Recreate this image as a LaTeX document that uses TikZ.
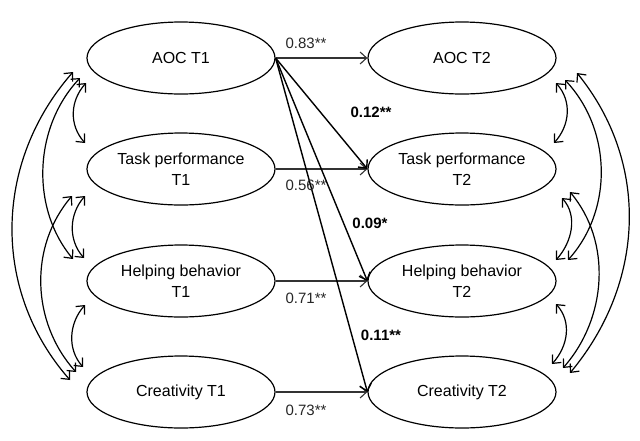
\documentclass[tikz,border=0pt]{standalone}
\usepackage{fontspec}
\setmainfont{Liberation Sans}
\usetikzlibrary{arrows.meta,shapes.geometric}
\begin{document}
\begin{tikzpicture}[x=1pt,y=-1pt,
  var/.style={ellipse,draw,line width=1.2pt,minimum width=188pt,minimum height=72pt,inner sep=0pt,align=center,font=\fontsize{16}{20.5}\selectfont},
  stab/.style={line width=1.1pt,draw=black!80,-{Straight Barb[length=6.5pt,width=12pt]}},
  cross/.style={line width=1.4pt,-{Straight Barb[length=6.5pt,width=12pt]}},
  cov/.style={line width=1.2pt,{Straight Barb[length=6.5pt,width=12pt]}-{Straight Barb[length=6.5pt,width=12pt]}},
  coef/.style={font=\fontsize{15}{17}\selectfont,text=black!85,inner sep=0pt},
  bcoef/.style={font=\bfseries\fontsize{15}{17}\selectfont,inner sep=0pt}
]
\useasboundingbox (0,0) rectangle (640,440);

% variables
\node[var] (aoc1) at (181,58) {AOC T1};
\node[var] (task1) at (181,169) {Task performance\\T1};
\node[var] (help1) at (181,281) {Helping behavior\\T1};
\node[var] (crea1) at (181,392) {Creativity T1};
\node[var] (aoc2) at (462,58) {AOC T2};
\node[var] (task2) at (462,169) {Task performance\\T2};
\node[var] (help2) at (462,281) {Helping behavior\\T2};
\node[var] (crea2) at (462,392) {Creativity T2};

% stability paths
\draw[stab] (aoc1.east) -- (aoc2.west);
\draw[stab] (task1.east) -- (task2.west);
\draw[stab] (help1.east) -- (help2.west);
\draw[stab] (crea1.east) -- (crea2.west);

% cross-lagged paths
\draw[cross] (aoc1.east) -- (task2.west);
\draw[cross] (aoc1.east) -- (help2.west);
\draw[cross] (aoc1.east) -- (crea2.west);

% coefficients
\node[coef] (c1) at (306,43) {0.83**};
\node[coef] (c2) at (306,185) {0.56**};
\node[coef] (c3) at (306,298) {0.71**};
\node[coef] (c4) at (306,410) {0.73**};
\node[bcoef] (b1) at (371,112) {0.12**};
\node[bcoef] (b2) at (370,223) {0.09*};
\node[bcoef] (b3) at (381,335) {0.11**};

% left covariance end points
\coordinate (La1) at (86,83);
\coordinate (La2) at (80,78);
\coordinate (La3) at (73,72);
\coordinate (Lt0) at (85,143);
\coordinate (Lt2) at (85,196);
\coordinate (Lt3) at (72,196);
\coordinate (Lh0) at (73,259);
\coordinate (Lh1) at (84,258);
\coordinate (Lh3) at (85,305);
\coordinate (Lc2) at (83,367);
\coordinate (Lc1) at (76,372);
\coordinate (Lc0) at (70,380);

\draw[cov] (La1) .. controls +(-16,18) and +(-16,-18) .. (Lt0);
\draw[cov] (Lt2) .. controls +(-16,18) and +(-16,-18) .. (Lh1);
\draw[cov] (Lh3) .. controls +(-16,18) and +(-16,-18) .. (Lc2);
\draw[cov] (La2) .. controls +(-47,50) and +(-42,-50) .. (Lh0);
\draw[cov] (Lt3) .. controls +(-43,50) and +(-45,-50) .. (Lc1);
\draw[cov] (La3) .. controls +(-79,90) and +(-79,-90) .. (Lc0);

% right covariance end points
\coordinate (Ra1) at (556,83);
\coordinate (Ra2) at (565,80);
\coordinate (Ra3) at (577,73);
\coordinate (Rt0) at (554,143);
\coordinate (Rt2) at (562,198);
\coordinate (Rt3) at (570,192);
\coordinate (Rh0) at (568,260);
\coordinate (Rh1) at (556,260);
\coordinate (Rh3) at (556,304);
\coordinate (Rc2) at (552,364);
\coordinate (Rc1) at (563,368);
\coordinate (Rc0) at (570,373);

\draw[cov] (Ra1) .. controls +(16,18) and +(16,-18) .. (Rt0);
\draw[cov] (Rt2) .. controls +(16,18) and +(16,-18) .. (Rh1);
\draw[cov] (Rh3) .. controls +(16,18) and +(16,-18) .. (Rc2);
\draw[cov] (Ra2) .. controls +(47,50) and +(45,-50) .. (Rh0);
\draw[cov] (Rt3) .. controls +(42,50) and +(44,-50) .. (Rc1);
\draw[cov] (Ra3) .. controls +(73,90) and +(75,-90) .. (Rc0);
\end{tikzpicture}
\end{document}
